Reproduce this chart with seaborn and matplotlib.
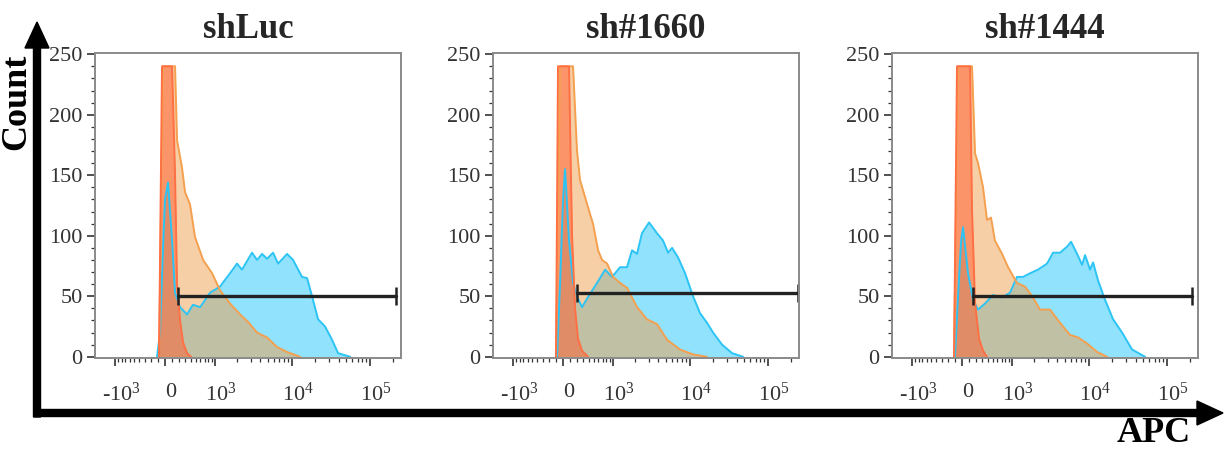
import numpy as np
import matplotlib
matplotlib.use('Agg')
import matplotlib.pyplot as plt
import matplotlib.transforms as mtrans
import seaborn as sns
from matplotlib.patches import FancyArrow
from matplotlib.ticker import FixedLocator, FixedFormatter

# ---- data (APC value, cell count) ----
titles = ['shLuc', 'sh#1660', 'sh#1444']

luc_blue_x = [-115, -72, -29, 0, 43, 101, 145, 221, 336, 445, 593, 849, 1172, 1603, 1985, 2304,
              3113, 3614, 4193, 4859, 5802, 6728, 8770, 10460, 13630, 15795, 18290, 21825,
              26820, 32955, 39305, 55970]
luc_blue_y = [0, 20, 90, 130, 144, 96, 53, 41, 35, 43, 41, 53, 58, 69, 77, 72,
              86, 80, 85, 81, 86, 77, 85, 80, 66, 65, 50, 31,
              25, 14, 3, 0]
luc_orange_x = [-86, -29, 145, 175, 253, 302, 389, 485, 664, 907, 1172, 1603, 2172, 2751,
                3614, 4859, 6534, 8770, 12850]
luc_orange_y = [0, 240, 240, 179, 156, 136, 126, 99, 80, 69, 55, 44, 35, 29,
                20, 16, 8, 4, 0]
luc_red_x = [-86, -43, 101, 145, 175, 221, 269, 336, 408]
luc_red_y = [0, 240, 240, 150, 60, 30, 12, 3, 0]

s1660_blue_x = [-86, -43, 0, 29, 86, 145, 205, 285, 371, 570, 766, 968, 1251, 1555, 1813,
                2108, 2443, 3023, 3834, 4583, 5309, 5975, 7138, 8770, 11090, 13630, 16745,
                19985, 26045, 34950, 48300]
s1660_blue_y = [0, 60, 130, 155, 96, 61, 50, 41, 48, 61, 72, 66, 74, 74, 88,
                85, 102, 111, 102, 96, 86, 90, 82, 69, 50, 36, 28,
                20, 10, 3, 0]
s1660_orange_x = [-101, -43, 145, 205, 253, 336, 426, 485, 593, 688, 820, 999, 1251, 1555,
                  2108, 2834, 3834, 5154, 7570, 11090, 16745]
s1660_orange_y = [0, 240, 240, 170, 146, 132, 118, 110, 88, 80, 77, 66, 61, 57,
                  41, 31, 27, 14, 6, 2, 0]
s1660_red_x = [-101, -72, 86, 130, 175, 221, 285, 389]
s1660_red_y = [0, 240, 240, 100, 40, 15, 5, 0]

s1444_blue_x = [-101, -57, -14, 14, 86, 160, 237, 353, 505, 713, 937, 1172, 1419, 1759, 2237,
                2934, 3508, 4319, 5309, 5975, 7138, 8269, 9030, 10460, 11425, 13235, 16260,
                20580, 26820, 35990, 52770]
s1444_blue_y = [0, 50, 95, 107, 69, 47, 39, 44, 51, 49, 53, 66, 66, 69, 72,
                77, 86, 86, 91, 95, 85, 76, 84, 72, 78, 63, 47,
                31, 20, 6, 0]
s1444_orange_x = [-115, -57, 145, 190, 237, 319, 389, 465, 546, 713, 877, 1172, 1509, 1927,
                  2372, 3205, 4319, 5802, 7350, 9577, 12850, 17245]
s1444_orange_y = [0, 240, 240, 168, 160, 140, 113, 115, 96, 85, 74, 61, 58, 49,
                  39, 39, 28, 18, 16, 11, 4, 0]
s1444_red_x = [-115, -72, 115, 145, 190, 253, 319, 389]
s1444_red_y = [0, 240, 240, 120, 45, 15, 5, 0]

# gate bars: start, end, height
gate_start = [190, 205, 160]
gate_end = [215000, 243000, 210000]
gate_level = [50, 53, 50]

blue_x = [luc_blue_x, s1660_blue_x, s1444_blue_x]
blue_y = [luc_blue_y, s1660_blue_y, s1444_blue_y]
orange_x = [luc_orange_x, s1660_orange_x, s1444_orange_x]
orange_y = [luc_orange_y, s1660_orange_y, s1444_orange_y]
red_x = [luc_red_x, s1660_red_x, s1444_red_x]
red_y = [luc_red_y, s1660_red_y, s1444_red_y]

# ---- style ----
sns.set_theme(style='ticks')
plt.rcParams['font.family'] = ['Liberation Serif', 'DejaVu Serif']
plt.rcParams['mathtext.fontset'] = 'custom'
plt.rcParams['mathtext.rm'] = 'Liberation Serif'
plt.rcParams['mathtext.it'] = 'Liberation Serif:italic'
plt.rcParams['mathtext.bf'] = 'Liberation Serif:bold'

# biexponential-like axis (arcsinh)
C = 485.0
def fwd(x):
    return np.arcsinh(np.asarray(x) / C)
def inv(y):
    return C * np.sinh(np.asarray(y))

major_x = [-1000, 0, 1000, 10000, 100000]
major_lbl = [r'-$\mathregular{10^3}$', r'0', r'$\mathregular{10^3}$',
             r'$\mathregular{10^4}$', r'$\mathregular{10^5}$']
minor_x = ([-v for v in range(100, 1000, 100)] + list(range(100, 1000, 100))
           + list(range(2000, 10000, 1000)) + list(range(20000, 100000, 10000)) + [200000])

fig = plt.figure(figsize=(12.25, 4.51), dpi=100)
lefts = [95, 493, 892]

col_blue = '#25C7FB'
col_orange = '#F0A050'
col_red = '#FF5A2A'

shift = mtrans.ScaledTranslation(6 / 100, 0, fig.dpi_scale_trans)

for i in range(3):
    ax = fig.add_axes([lefts[i] / 1225, 93 / 451, 306 / 1225, 305 / 451])
    ax.set_xscale('function', functions=(fwd, inv))

    ax.fill_between(blue_x[i], blue_y[i], color=col_blue, alpha=0.5, lw=0)
    sns.lineplot(x=blue_x[i], y=blue_y[i], ax=ax, color='#2CC4F4', lw=1.4)
    ax.fill_between(orange_x[i], orange_y[i], color=col_orange, alpha=0.5, lw=0)
    sns.lineplot(x=orange_x[i], y=orange_y[i], ax=ax, color='#F5A04F', lw=1.4)
    ax.fill_between(red_x[i], red_y[i], color=col_red, alpha=0.5, lw=0)
    sns.lineplot(x=red_x[i], y=red_y[i], ax=ax, color='#FF7045', lw=1.4)

    ax.plot([gate_start[i], gate_end[i]], [gate_level[i], gate_level[i]], color='#222222',
            lw=2.4, marker='|', markersize=13, mew=1.8)

    ax.set_xlim(-1870, 250000)
    ax.set_ylim(-1, 251)
    ax.xaxis.set_major_locator(FixedLocator(major_x))
    ax.xaxis.set_major_formatter(FixedFormatter(major_lbl))
    ax.xaxis.set_minor_locator(FixedLocator(minor_x))
    ax.set_yticks([0, 50, 100, 150, 200, 250])
    ax.yaxis.set_minor_locator(FixedLocator([v for v in range(10, 250, 10) if v % 50]))

    ax.tick_params(axis='both', which='major', direction='out', length=6, width=1.2,
                   color='#333333', labelcolor='#333333', labelsize=16)
    ax.tick_params(axis='both', which='minor', direction='out', length=3, width=0.9,
                   color='#333333')
    ax.tick_params(axis='x', which='major', pad=12)
    ax.tick_params(axis='y', which='major', pad=3)
    for t in ax.xaxis.get_major_ticks():
        t.label1.set_transform(t.label1.get_transform() + shift)
    for sp in ax.spines.values():
        sp.set_visible(True)
        sp.set_color('#8a8a8a')
        sp.set_linewidth(1.4)
    ax.set_xlabel('')
    ax.set_ylabel('')
    ax.set_title(titles[i], fontsize=25, fontweight='bold', pad=11)

# overlay for the big axis arrows
ov = fig.add_axes([0, 0, 1, 1], zorder=-1)
ov.set_xlim(0, 1225)
ov.set_ylim(451, 0)
ov.axis('off')
ov.patch.set_alpha(0)
ov.add_patch(FancyArrow(37, 417, 0, -395, width=7, head_width=24, head_length=26,
                        length_includes_head=True, color='black'))
ov.add_patch(FancyArrow(34, 413, 1189, 0, width=7, head_width=24, head_length=26,
                        length_includes_head=True, color='black'))
ov.text(17, 102, 'Count', rotation=90, ha='center', va='center', fontsize=26,
        fontweight='bold', color='black')
ov.text(1154, 434, 'APC', ha='center', va='center', fontsize=26,
        fontweight='bold', color='black')

fig.savefig('out.png', dpi=100)
